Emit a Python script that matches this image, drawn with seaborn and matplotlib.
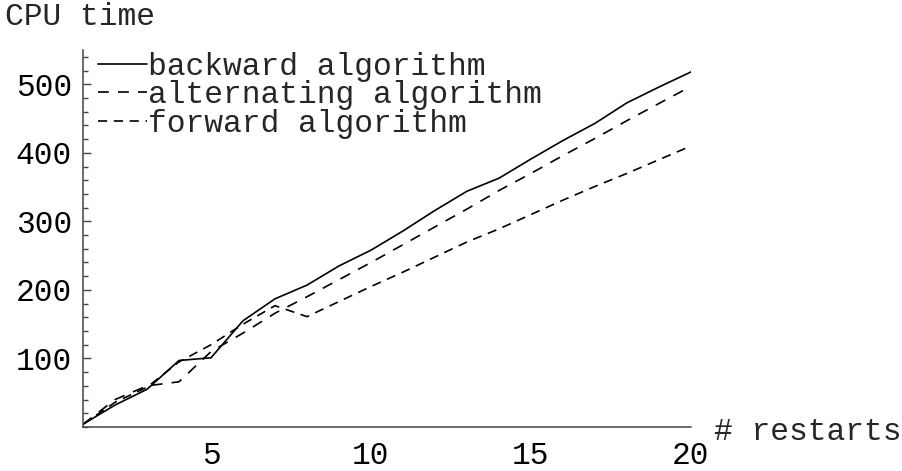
import numpy as np
import pandas as pd
import matplotlib
matplotlib.use("Agg")
import matplotlib.pyplot as plt
from matplotlib.ticker import MultipleLocator
import seaborn as sns

restarts = list(range(1, 21))
backward = [4, 32, 55, 97, 101, 155, 187, 207, 235, 258, 286, 316, 344, 363, 391, 418, 443, 473, 496, 518]
alternating = [4, 40, 60, 66, 110, 137, 166, 190, 215, 240, 266, 292, 318, 345, 370, 396, 421, 447, 472, 497]
forward = [4, 36, 58, 95, 120, 150, 177, 161, 183, 205, 226, 248, 270, 289, 310, 331, 351, 370, 390, 410]
labels = ["backward algorithm", "alternating algorithm", "forward algorithm"]

df = pd.concat([
    pd.DataFrame({"restarts": restarts, "cpu": vals, "algorithm": name})
    for name, vals in zip(labels, [backward, alternating, forward])
])

sns.set_theme(style="white")
plt.rcParams["font.family"] = ["Liberation Mono", "DejaVu Sans Mono"]
FS = 22.5

fig = plt.figure(figsize=(9.03, 4.71), dpi=100)
ax = fig.add_axes([83 / 903, 44 / 471, 608 / 903, 377 / 471])

sns.lineplot(
    data=df, x="restarts", y="cpu", style="algorithm", style_order=labels,
    dashes={labels[0]: "", labels[1]: (6.5, 5.5), labels[2]: (5.5, 4.0)},
    color="black", linewidth=1.2, ax=ax, legend=True,
)

ax.set_xlim(1, 20)
ax.set_ylim(0, 550)
ax.set_xticks([5, 10, 15, 20])
ax.set_yticks([100, 200, 300, 400, 500])
ax.yaxis.set_minor_locator(MultipleLocator(20))
ax.tick_params(axis="both", which="both", direction="in", colors="#444444",
               labelcolor="black", labelsize=FS)
ax.tick_params(axis="x", which="major", length=6, width=1, pad=10)
ax.tick_params(axis="y", which="major", length=6, width=1, pad=8, left=True)
ax.tick_params(axis="y", which="minor", length=3.5, width=1, left=True)
for s in ["top", "right"]:
    ax.spines[s].set_visible(False)
for s in ["left", "bottom"]:
    ax.spines[s].set_color("#444444")
    ax.spines[s].set_linewidth(1.1)
ax.set_xlabel("")
ax.set_ylabel("")

fig.text(5 / 903, 1 - 17 / 471, "CPU time", fontsize=FS, ha="left", va="center")
ax.annotate("# restarts", xy=(1.0, 0.0), xycoords="axes fraction",
            xytext=(16.5, -3.5), textcoords="offset points", fontsize=FS,
            ha="left", va="center")

leg = ax.legend(loc="upper left", bbox_to_anchor=(0.025, 0.995), frameon=False,
                fontsize=FS, handlelength=1.55, handletextpad=0.05,
                labelspacing=-0.05, borderpad=0.0, borderaxespad=0.0)
for line in leg.get_lines():
    line.set_linewidth(1.2)

fig.savefig("out.png", dpi=100)
